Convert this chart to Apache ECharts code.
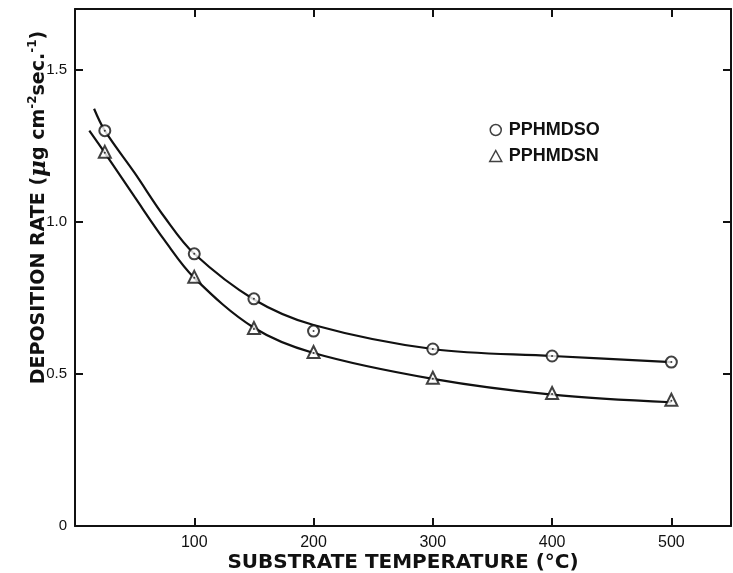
<!DOCTYPE html>
<html>
<head>
<meta charset="utf-8">
<script src="https://cdn.jsdelivr.net/npm/echarts@6/dist/echarts.min.js"></script>
<style>
  html, body { margin: 0; padding: 0; background: #fff; }
  #chart-container { width: 733px; height: 573px; }
</style>
</head>
<body>
<div id="chart-container"></div>
<script>
// measured points
var tempO = [25, 100, 150, 200, 300, 400, 500];
var rateO = [1.30, 0.895, 0.747, 0.641, 0.582, 0.559, 0.539];
var tempN = [25, 100, 150, 200, 300, 400, 500];
var rateN = [1.227, 0.816, 0.648, 0.569, 0.484, 0.434, 0.412];

// hand drawn fitted curves
var curveTempO = [16, 25, 50, 75, 100, 150, 200, 300, 400, 500];
var curveRateO = [1.372, 1.30, 1.161, 1.016, 0.895, 0.745, 0.661, 0.582, 0.559, 0.539];
var curveTempN = [12, 25, 50, 75, 100, 150, 200, 300, 400, 500];
var curveRateN = [1.30, 1.227, 1.082, 0.94, 0.816, 0.652, 0.569, 0.484, 0.432, 0.407];

var xTickLabels = [100, 200, 300, 400, 500];
var yTickLabels = [0, 0.5, 1.0, 1.5];

function pairs(xs, ys) {
  return xs.map(function (x, i) { return [x, ys[i]]; });
}

var ink = '#111';
var font = 'Liberation Sans';
var titleFont = 'DejaVu Sans';

var dom = document.getElementById('chart-container');
var myChart = echarts.init(dom);
var option;

function tick() {
  return { show: true, inside: true, length: 8, lineStyle: { color: ink, width: 2 } };
}
function line() {
  return { show: true, onZero: false, lineStyle: { color: ink, width: 2 } };
}

option = {
  animation: false,
  backgroundColor: '#fff',
  grid: { left: 75, right: 2, top: 9, bottom: 47, outerBoundsMode: 'none' },
  legend: {
    orient: 'vertical',
    left: 484,
    top: 116,
    itemGap: 8,
    itemWidth: 12,
    itemHeight: 11,
    itemStyle: { color: '#fff', borderColor: ink, borderWidth: 1.5 },
    textStyle: { color: ink, fontFamily: font, fontSize: 18, fontWeight: 'bold', padding: [0, 0, 0, 2] },
    data: [
      { name: 'PPHMDSO', icon: 'circle' },
      { name: 'PPHMDSN', icon: 'triangle' }
    ]
  },
  xAxis: [
    {
      type: 'value',
      min: 0,
      max: 550,
      interval: 100,
      name: 'SUBSTRATE TEMPERATURE (°C)',
      nameLocation: 'middle',
      nameGap: 27,
      nameMoveOverlap: false,
      nameTextStyle: { color: ink, fontFamily: titleFont, fontSize: 20, fontWeight: 'bold' },
      axisLine: line(),
      axisTick: tick(),
      axisLabel: {
        color: ink, fontFamily: font, fontSize: 16, margin: 9,
        formatter: function (v) { return xTickLabels.indexOf(v) >= 0 ? String(v) : ''; }
      },
      splitLine: { show: false }
    },
    {
      type: 'value',
      position: 'top',
      min: 0,
      max: 550,
      interval: 100,
      axisLine: line(),
      axisTick: tick(),
      axisLabel: { show: false },
      splitLine: { show: false }
    }
  ],
  yAxis: [
    {
      type: 'value',
      min: 0,
      max: 1.7,
      interval: 0.5,
      name: '{t|DEPOSITION RATE (}{mu|μ}{t|g cm}{sup|-2}{t|sec.}{sup|-1}{t|)}',
      nameLocation: 'middle',
      nameRotate: 90,
      nameGap: 24,
      nameMoveOverlap: false,
      nameTextStyle: {
        padding: [0, 0, 0, 120],
        rich: {
          t: { color: ink, fontFamily: titleFont, fontSize: 19, fontWeight: 'bold', lineHeight: 24 },
          mu: { color: ink, fontFamily: 'DejaVu Serif', fontSize: 23, fontStyle: 'italic', fontWeight: 'bold', lineHeight: 24 },
          sup: { color: ink, fontFamily: titleFont, fontSize: 12, fontWeight: 'bold', verticalAlign: 'top', lineHeight: 24 }
        }
      },
      axisLine: line(),
      axisTick: tick(),
      axisLabel: {
        color: ink, fontFamily: font, fontSize: 15, margin: 8,
        formatter: function (v) {
          if (yTickLabels.indexOf(v) < 0) return '';
          return v === 0 ? '0' : v.toFixed(1);
        }
      },
      splitLine: { show: false }
    },
    {
      type: 'value',
      position: 'right',
      min: 0,
      max: 1.7,
      interval: 0.5,
      axisLine: line(),
      axisTick: tick(),
      axisLabel: { show: false },
      splitLine: { show: false }
    }
  ],
  series: [
    {
      type: 'line',
      data: pairs(curveTempO, curveRateO),
      smooth: 0.35,
      showSymbol: false,
      silent: true,
      lineStyle: { color: ink, width: 2.2 },
      z: 2
    },
    {
      type: 'line',
      data: pairs(curveTempN, curveRateN),
      smooth: 0.35,
      showSymbol: false,
      silent: true,
      lineStyle: { color: ink, width: 2.2 },
      z: 2
    },
    {
      name: 'PPHMDSO',
      type: 'scatter',
      data: pairs(tempO, rateO),
      symbol: 'circle',
      symbolSize: 11,
      itemStyle: { color: '#fff', borderColor: ink, borderWidth: 2 },
      z: 3
    },
    {
      name: 'PPHMDSN',
      type: 'scatter',
      data: pairs(tempN, rateN),
      symbol: 'triangle',
      symbolSize: 12,
      symbolOffset: [0, -1],
      itemStyle: { color: '#fff', borderColor: ink, borderWidth: 2 },
      z: 3
    },
    {
      // centre dots inside the open markers
      type: 'scatter',
      data: pairs(tempO, rateO).concat(pairs(tempN, rateN)),
      symbol: 'circle',
      symbolSize: 2,
      itemStyle: { color: ink },
      silent: true,
      z: 4
    }
  ]
};

if (option && typeof option === 'object') {
  myChart.setOption(option);
}

window.addEventListener('resize', myChart.resize);
</script>
</body>
</html>
